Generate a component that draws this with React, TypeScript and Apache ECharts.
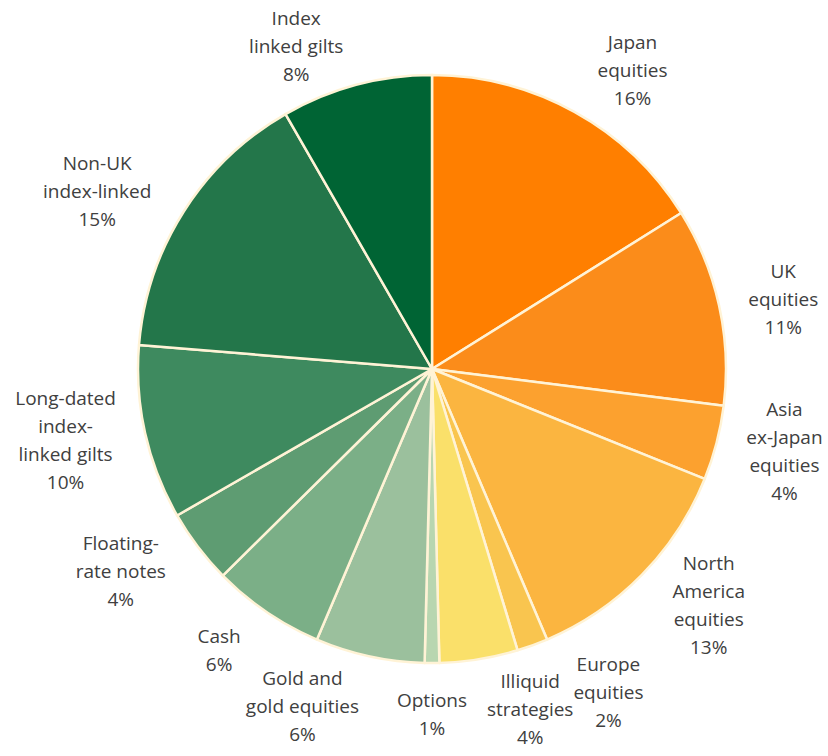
import React, { useEffect, useRef } from "react";
import * as echarts from "echarts";

const categories = [
  "Japan\nequities",
  "UK\nequities",
  "Asia\nex-Japan\nequities",
  "North\nAmerica\nequities",
  "Europe\nequities",
  "Illiquid\nstrategies",
  "Options",
  "Gold and\ngold equities",
  "Cash",
  "Floating-\nrate notes",
  "Long-dated\nindex-\nlinked gilts",
  "Non-UK\nindex-linked",
  "Index\nlinked gilts",
];

const values = [16.1, 10.9, 4.1, 12.5, 1.7, 4.3, 0.8, 6.0, 6.2, 4.1, 9.6, 15.4, 8.3];

const colors = [
  "#FF7F00",
  "#FB8C1A",
  "#FCA12F",
  "#FBB540",
  "#F9C54F",
  "#FAE06A",
  "#B8D6B0",
  "#9BC09D",
  "#7BAF87",
  "#5E9C72",
  "#3E8A5F",
  "#23764A",
  "#006434",
];

const CX = 432;
const CY = 369;
const R = 294;
const LABEL_R = 318;
const LABEL_R_VERTICAL_EXTRA = 27;
const EDGE_MARGIN = 8;

export default function App() {
  const ref = useRef<HTMLDivElement>(null);
  useEffect(() => {
    if (!ref.current) return;
    const chart = echarts.init(ref.current, null, { renderer: "svg" });
    const total = values.reduce((a, b) => a + b, 0);
    const mids: number[] = [];
    let acc = 0;
    values.forEach((v) => {
      mids.push(((acc + v / 2) / total) * Math.PI * 2);
      acc += v;
    });
    chart.setOption({
      animation: false,
      backgroundColor: "#ffffff",
      series: [
        {
          type: "pie",
          center: [CX, CY],
          radius: R,
          startAngle: 90,
          clockwise: true,
          avoidLabelOverlap: false,
          data: categories.map((name, i) => ({
            name,
            value: values[i],
            itemStyle: { color: colors[i] },
          })),
          itemStyle: { borderColor: "#FFF3D6", borderWidth: 2.5 },
          label: {
            show: true,
            position: "outside",
            formatter: (p: any) => {
              const pct = Math.round((p.value / total) * 100) + "%";
              return (p.name + "\n" + pct)
                .split("\n")
                .map((l: string) => "{c|" + l + "}")
                .join("\n");
            },
            rich: {
              c: {
                align: "center",
                fontSize: 19,
                lineHeight: 28,
                color: "#404040",
                fontFamily: "Open Sans",
              },
            },
          },
          labelLine: { show: false, length: 30, length2: 0 },
          labelLayout: (params: any) => {
            const a = mids[params.dataIndex];
            const ux = Math.sin(a);
            const uy = -Math.cos(a);
            const h = params.labelRect.height;
            const d = LABEL_R + LABEL_R_VERTICAL_EXTRA * Math.abs(uy);
            const ax = CX + d * ux;
            let ay = CY + d * uy;
            // keep labels inside the chart area
            ay = Math.max(ay, h / 2 + EDGE_MARGIN);
            let align = ux >= 0 ? "left" : "right";
            if (Math.abs(ux) < 0.05) align = "center";
            const out: any = { x: ax, y: ay, align, verticalAlign: "middle" };
            // bottom labels sit on one row: push them apart horizontally
            if (uy > 0.9) out.moveOverlap = "shiftX";
            return out;
          },
          emphasis: { disabled: true },
        },
      ],
    });
    return () => chart.dispose();
  }, []);
  return (
    <div
      ref={ref}
      style={{ position: "absolute", left: 0, top: 0, width: 828, height: 756 }}
    />
  );
}
